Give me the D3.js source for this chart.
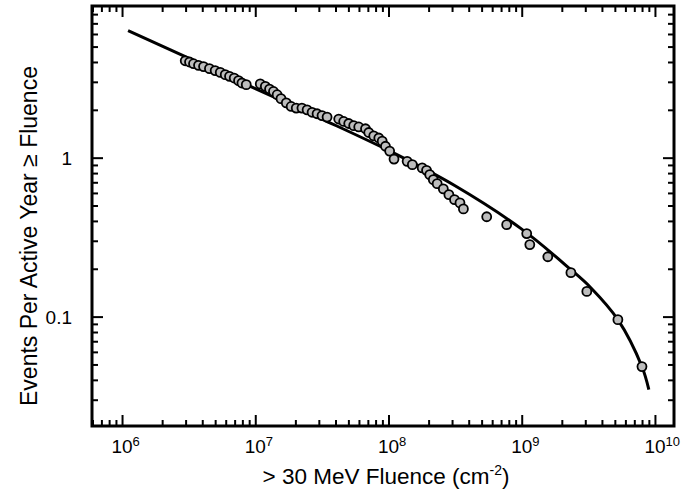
<!DOCTYPE html>
<html>
<head>
<meta charset="utf-8">
<script src="https://cdn.jsdelivr.net/npm/d3@7"></script>
<style>
  html, body { margin: 0; padding: 0; background: #fff; }
  svg { display: block; }
  text { font-family: "Liberation Sans", Arial, Helvetica, sans-serif; fill: #000; }
</style>
</head>
<body>
<svg id="chart" width="695" height="491"></svg>
<script>
// Observed events (fluence in cm^-2, events per active year >= fluence)
const fluence = [2.98e6, 3.21e6, 3.44e6, 3.75e6, 4.09e6, 4.53e6, 5.00e6, 5.46e6, 5.95e6, 6.41e6,
  6.95e6, 7.49e6, 7.94e6, 8.56e6, 1.09e7, 1.19e7, 1.28e7, 1.37e7, 1.46e7, 1.56e7,
  1.71e7, 1.86e7, 2.03e7, 2.24e7, 2.45e7, 2.67e7, 2.91e7, 3.17e7, 3.46e7, 4.23e7,
  4.61e7, 5.03e7, 5.48e7, 5.98e7, 6.72e7, 7.11e7, 7.75e7, 8.46e7, 8.97e7, 9.49e7,
  1.02e8, 1.10e8, 1.38e8, 1.51e8, 1.79e8, 1.93e8, 2.04e8, 2.17e8, 2.32e8, 2.58e8,
  2.84e8, 3.13e8, 3.44e8, 3.65e8, 5.46e8, 7.71e8, 1.09e9, 1.15e9, 1.57e9, 2.34e9,
  3.08e9, 5.27e9, 7.99e9];
const events = [4.07, 4.00, 3.90, 3.81, 3.74, 3.63, 3.53, 3.44, 3.33, 3.25,
  3.17, 3.05, 2.95, 2.88, 2.91, 2.81, 2.70, 2.61, 2.49, 2.35,
  2.21, 2.10, 2.05, 2.05, 2.00, 1.93, 1.89, 1.84, 1.80, 1.75,
  1.69, 1.64, 1.59, 1.56, 1.52, 1.44, 1.37, 1.33, 1.27, 1.18,
  1.10, 0.98, 0.948, 0.904, 0.862, 0.832, 0.782, 0.727, 0.686, 0.636,
  0.585, 0.544, 0.519, 0.476, 0.425, 0.379, 0.333, 0.284, 0.238, 0.189,
  0.144, 0.0957, 0.0485];

// Fitted curve
const fitFluence = [1.11e6, 3.16e6, 1.0e7, 3.16e7, 1.0e8, 3.16e8, 1.0e9, 2.33e9, 3.3e9, 5.27e9, 7.98e9, 9.0e9];
const fitEvents  = [6.30, 4.23, 2.72, 1.75, 1.11, 0.665, 0.355, 0.198, 0.152, 0.0957, 0.0485, 0.0347];

// Axis labels
const xTickExponents = [6, 7, 8, 9, 10];
const yTickValues = [0.1, 1];
const yTickLabels = ["0.1", "1"];
const xTitle = ["> 30 MeV Fluence (cm", "-2", ")"];
const yTitle = "Events Per Active Year \u2265 Fluence";

const svg = d3.select("#chart");
const L = 92, R = 674, T = 6, B = 426;

const x = d3.scaleLog().domain([5.95e5, 1.39e10]).range([L, R]);
const y = d3.scaleLog().domain([0.0205, 9.0]).range([B, T]);

// Tick values
const xMinor = [];
for (let e = 5; e <= 10; e++) for (let m = 2; m <= 9; m++) {
  const v = m * Math.pow(10, e);
  if (v > x.domain()[0] * 1.001 && v < x.domain()[1]) xMinor.push(v);
}
const xMajor = xTickExponents.map(e => Math.pow(10, e));
const yMinor = [];
for (let e = -2; e <= 0; e++) for (let m = 2; m <= 9; m++) {
  const v = m * Math.pow(10, e);
  if (v > y.domain()[0] && v < y.domain()[1] * 0.999) yMinor.push(v);
}

const majorLen = 11, minorLen = 6;

function drawAxis(gen, pos, vals, len) {
  const g = svg.append("g").attr("transform", pos);
  g.call(gen.tickValues(vals).tickSize(len).tickFormat(""));
  g.select(".domain").remove();
  g.selectAll(".tick line").attr("stroke", "#000").attr("stroke-width", 2);
  return g;
}
// inward ticks on all four sides
drawAxis(d3.axisTop(x), `translate(0,${B})`, xMinor, minorLen);
drawAxis(d3.axisTop(x), `translate(0,${B})`, xMajor, majorLen);
drawAxis(d3.axisBottom(x), `translate(0,${T})`, xMinor, minorLen);
drawAxis(d3.axisBottom(x), `translate(0,${T})`, xMajor, majorLen);
drawAxis(d3.axisRight(y), `translate(${L},0)`, yMinor, minorLen);
drawAxis(d3.axisRight(y), `translate(${L},0)`, yTickValues, majorLen);
drawAxis(d3.axisLeft(y), `translate(${R},0)`, yMinor, minorLen);
drawAxis(d3.axisLeft(y), `translate(${R},0)`, yTickValues, majorLen);

// Frame
svg.append("rect")
  .attr("x", L).attr("y", T).attr("width", R - L).attr("height", B - T)
  .attr("fill", "none").attr("stroke", "#000").attr("stroke-width", 3);

// Fit curve
const fitData = fitFluence.map((f, i) => [f, fitEvents[i]]);
svg.append("path")
  .datum(fitData)
  .attr("fill", "none").attr("stroke", "#000").attr("stroke-width", 3)
  .attr("d", d3.line().x(d => x(d[0])).y(d => y(d[1])).curve(d3.curveCatmullRom.alpha(0.5)));

// Points
const pts = fluence.map((f, i) => [f, events[i]]);
svg.append("g").selectAll("circle").data(pts).join("circle")
  .attr("cx", d => x(d[0])).attr("cy", d => y(d[1])).attr("r", 4.5)
  .attr("fill", "#bdbdbd").attr("stroke", "#000").attr("stroke-width", 1.8);

// X tick labels
const fs = 19;
xMajor.forEach((v, i) => {
  const t = svg.append("text").attr("y", 453).attr("font-size", fs);
  const base = t.append("tspan").text("10");
  t.append("tspan").text(xTickExponents[i]).attr("font-size", 13).attr("dy", -7);
  const w = base.node().getComputedTextLength();
  t.attr("x", x(v) - w / 2);
});

// Y tick labels
yTickValues.forEach((v, i) => {
  svg.append("text").attr("x", 72).attr("y", y(v) + 7)
    .attr("text-anchor", "end").attr("font-size", fs).text(yTickLabels[i]);
});

// X title
const xt = svg.append("text").attr("x", 386).attr("y", 484)
  .attr("text-anchor", "middle").attr("font-size", 22.5);
xt.append("tspan").text(xTitle[0]);
xt.append("tspan").text(xTitle[1]).attr("font-size", 14).attr("dy", -9);
xt.append("tspan").text(xTitle[2]).attr("dy", 9);

// Y title
svg.append("text")
  .attr("transform", `translate(37,236) rotate(-90)`)
  .attr("text-anchor", "middle").attr("font-size", 23).text(yTitle);
</script>
</body>
</html>
